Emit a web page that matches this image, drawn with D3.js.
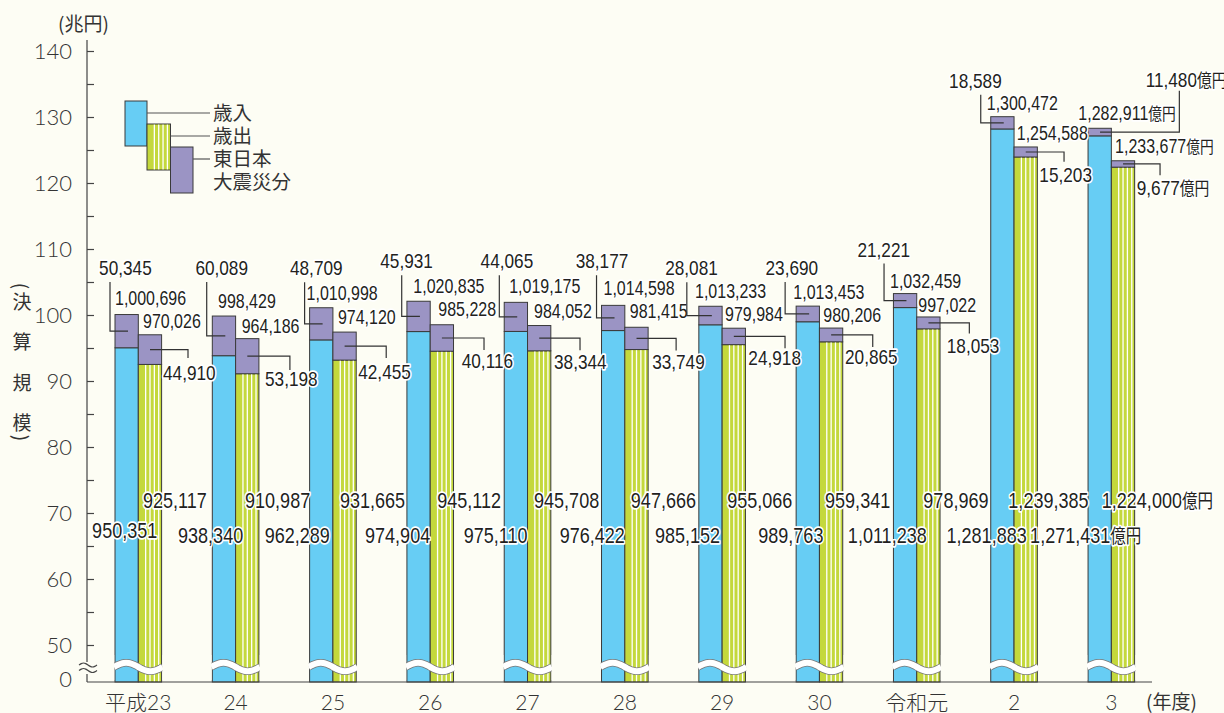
<!DOCTYPE html>
<html><head><meta charset="utf-8">
<script src="https://cdn.jsdelivr.net/npm/d3@7"></script>
<style>body{margin:0;background:#fdfdf4;} svg{display:block}</style>
</head><body><svg id="c" width="1224" height="713"></svg>
<script>
// ---- data (億円) ----
const categories = ["平成23","24","25","26","27","28","29","30","令和元","2","3"];
const revenueTotal = [1000696, 998429, 1010998, 1020835, 1019175, 1014598, 1013233, 1013453, 1032459, 1300472, 1282911];
const revenueBase = [950351, 938340, 962289, 974904, 975110, 976422, 985152, 989763, 1011238, 1281883, 1271431];
const revenueQuake = [50345, 60089, 48709, 45931, 44065, 38177, 28081, 23690, 21221, 18589, 11480];
const expenditureTotal = [970026, 964186, 974120, 985228, 984052, 981415, 979984, 980206, 997022, 1254588, 1233677];
const expenditureBase = [925117, 910987, 931665, 945112, 945708, 947666, 955066, 959341, 978969, 1239385, 1224000];
const expenditureQuake = [44910, 53198, 42455, 40116, 38344, 33749, 24918, 20865, 18053, 15203, 9677];
const yTickLabels = [50, 60, 70, 80, 90, 100, 110, 120, 130, 140];
const yMinorTicks = [55, 65, 75, 85, 95, 105, 115, 125, 135];
const legendLabels = ["歳入", "歳出", "東日本", "大震災分"];
const unitLabel = "(兆円)";
const xUnitLabel = "(年度)";
const yTitleChars = ["決", "算", "規", "模"];
const lastUnit = "億円";

// ---- label layout nudges (px, per year) ----
const nudge = [
  {qx:36.7,qy:-39.5,lx:-5,  tx:0,   ty:-9.5,ex:4.7,ey:-6.8,px:1.4,py:30.4,kx:26.4,kd:8.4, rdx:19,  edx:4.7},
  {qx:35.7,qy:-41,  lx:-5.6,tx:5.7, ty:-8,  ex:6.1,ey:-5.9,px:6.1,py:29.7,kx:31,  kd:13.7,rdx:7.6, edx:9.4},
  {qx:33,  qy:-32.6,lx:-5,  tx:-3,  ty:-7.6,ex:5,  ey:-8,  px:2,  py:33,  kx:30,  kd:12,  rdx:-3,  edx:7},
  {qx:26,  qy:-33,  lx:-5.2,tx:6.4, ty:-8.3,ex:8.1,ey:-8.3,px:8.2,py:29.9,kx:30.5,kd:12,  rdx:0,   edx:7},
  {qx:29,  qy:-34,  lx:-4.9,tx:5,   ty:-9.3,ex:6.5,ey:-7.2,px:3.2,py:30.8,kx:29.2,kd:12,  rdx:0,   edx:6.5},
  {qx:26.8,qy:-37,  lx:-5,  tx:2,   ty:-10.4,ex:5, ey:-9.3,px:4,  py:30.6,kx:28,  kd:12,  rdx:0,   edx:6},
  {qx:19,  qy:-31,  lx:-12, tx:-3.8,ty:-8,  ex:2.9,ey:-7.2,px:2.9,py:28.5,kx:39.6,kd:11.8,rdx:-2,  edx:5},
  {qx:22,  qy:-31,  lx:-11, tx:-2.8,ty:-7.4,ex:3.9,ey:-6.4,px:2.3,py:28.9,kx:30,  kd:12,  rdx:4,   edx:5.6},
  {qx:16.6,qy:-37,  lx:-9.4,tx:-3.4,ty:-5.6,ex:1.6,ey:-4.9,px:6.7,py:30.2,kx:29.3,kd:10.5,rdx:10,  edx:6.6},
  {qx:11,  qy:-29,  lx:-10, tx:-4,  ty:-6.7,ex:2.7,ey:-6.6,px:2,  py:29.7,kx:26.7,kd:9.7, rdx:12.7,edx:-5.7},
  {qx:11,  qy:-41.6,lx:44.7,tx:-9.7,ty:-8.3,ex:3.7,ey:-7.4,px:2.1,py:31.2,kx:25.4,kd:11.2,rdx:30,  edx:-9.6, right:true}
];

// ---- styles ----
const BG = "#fdfdf4", BLUE = "#67cdf4", GREEN = "#c4d83c", PURPLE = "#9b94c4", EDGE = "#3a3a3a", INK = "#231f20";
const numFont = "'Liberation Sans','Noto Sans CJK JP',sans-serif";
const numScale = 0.82;
const axFont = "Lato,'Noto Sans CJK JP',sans-serif";
const jpFont = "'Noto Sans CJK JP',sans-serif";

const svg = d3.select("#c");
svg.append("rect").attr("width", 1224).attr("height", 713).attr("fill", BG);

const y = d3.scaleLinear().domain([50, 140]).range([645, 51]);
const zeroY = 682;
const yv = v => v >= 50 ? y(v) : zeroY;
const x = d3.scaleBand().domain(categories).range([89.65, 1160]).padding(0);
const bw = 23.3;
const cxOf = i => x(categories[i]) + x.bandwidth() / 2;
const toCho = v => v / 10000;

// ---- y axis ----
const axisX = 87;
const yAxis = d3.axisLeft(y)
  .tickValues(d3.sort(yTickLabels.concat(yMinorTicks)))
  .tickSize(-7).tickPadding(15)
  .tickFormat(d => yTickLabels.includes(d) ? d : "");
const gy = svg.append("g").attr("transform", `translate(${axisX},0)`).call(yAxis);
gy.select(".domain").remove();
gy.selectAll(".tick line").attr("stroke", "#444").attr("stroke-width", 1.2);
gy.selectAll(".tick text").attr("font-family", axFont).attr("font-weight", 300)
  .attr("font-size", 22).attr("fill", "#333");
svg.append("text").attr("x", axisX - 15).attr("y", zeroY - 2).attr("dy", "0.32em")
  .attr("text-anchor", "end").attr("font-family", axFont).attr("font-weight", 300)
  .attr("font-size", 22).attr("fill", "#333").text(0);

svg.append("path").attr("d", `M${axisX},40V662M${axisX},674V${zeroY}`).attr("stroke", "#444").attr("stroke-width", 1.2).attr("fill", "none");
const tilde = d3.line().curve(d3.curveBasis);
[665, 670.5].forEach(ty => {
  const pts = d3.range(0, 1.0001, 0.125).map(t => [79 + 18 * t, ty - 2.2 * Math.sin(2 * Math.PI * t)]);
  svg.append("path").attr("d", tilde(pts)).attr("stroke", "#444").attr("stroke-width", 1.2).attr("fill", "none");
});

// ---- bars ----
const revStack = d3.stack().keys(["base", "quake"])(categories.map((c, i) => ({ base: toCho(revenueBase[i]), quake: toCho(revenueQuake[i]) })));
const expStack = d3.stack().keys(["base", "quake"])(categories.map((c, i) => ({ base: toCho(expenditureBase[i]), quake: toCho(expenditureQuake[i]) })));

const gBars = svg.append("g");
function drawStack(stack, side, baseFill) {
  stack.forEach((layer, li) => {
    gBars.selectAll(null).data(layer).join("rect")
      .attr("x", (d, i) => cxOf(i) + (side === "left" ? -bw : 0))
      .attr("width", bw)
      .attr("y", d => yv(d[1]))
      .attr("height", d => yv(d[0]) - yv(d[1]))
      .attr("fill", li === 0 ? baseFill : PURPLE)
      .attr("stroke", EDGE).attr("stroke-width", 1);
  });
}
drawStack(revStack, "left", BLUE);
drawStack(expStack, "right", GREEN);

expStack[0].forEach((d, i) => {
  const gl = cxOf(i);
  d3.range(6.7, 21.5, 4.35).forEach(off => {
    gBars.append("rect").attr("x", gl + off).attr("width", 1.3)
      .attr("y", yv(d[1]) + 0.6).attr("height", zeroY - yv(d[1]) - 1.2).attr("fill", "#ffffff");
  });
});

const waveLine = d3.line().curve(d3.curveBasis);
categories.forEach((c, i) => {
  const x0 = cxOf(i) - bw - 1, w = 2 * bw + 2;
  const pts = d3.range(0, 1.0001, 0.05).map(t => [x0 + w * t, 667 - 4.3 * Math.sin(2 * Math.PI * t)]);
  gBars.append("path").attr("d", waveLine(pts)).attr("stroke", "#777").attr("stroke-width", 7.6).attr("fill", "none");
  gBars.append("path").attr("d", waveLine(pts)).attr("stroke", "#ffffff").attr("stroke-width", 6).attr("fill", "none");
  gBars.append("rect").attr("x", x0 - 3).attr("y", 655).attr("width", 3.2).attr("height", 25).attr("fill", BG);
  gBars.append("rect").attr("x", x0 + w - 0.2).attr("y", 655).attr("width", 3.2).attr("height", 25).attr("fill", BG);
});
svg.append("line").attr("x1", axisX).attr("x2", 1152).attr("y1", zeroY).attr("y2", zeroY)
  .attr("stroke", "#444").attr("stroke-width", 1.2);

// ---- labels ----
const fmt = d3.format(",");
const gL = svg.append("g");
const leader = d3.line();
function addText(xp, yp, v, i, anchor, size) {
  const t = gL.append("g").attr("transform", `translate(${xp},${yp}) scale(${numScale},1)`)
    .append("text").attr("text-anchor", anchor || "start")
    .attr("font-family", numFont).attr("font-size", size).attr("fill", INK)
    .attr("stroke", "#ffffff").attr("stroke-width", 3.4).attr("stroke-linejoin", "round")
    .attr("paint-order", "stroke");
  t.append("tspan").text(fmt(v));
  if (i === categories.length - 1) t.append("tspan").attr("font-size", "0.86em").text(lastUnit);
}
function addLeader(pts) {
  gL.append("path").attr("d", leader(pts)).attr("fill", "none").attr("stroke", "#333").attr("stroke-width", 1.2);
}
const SZ_TOTAL = 19.5, SZ_QUAKE = 21, SZ_INNER = 22;
categories.forEach((c, i) => {
  const n = nudge[i];
  const cx = cxOf(i), bl = cx - bw, gr = cx + bw;
  const revTop = yv(toCho(revenueTotal[i]));
  const revMid = (yv(toCho(revenueBase[i] + revenueQuake[i])) + yv(toCho(revenueBase[i]))) / 2;
  const expTop = yv(toCho(expenditureTotal[i]));
  const expMid = (yv(toCho(expenditureBase[i] + expenditureQuake[i])) + yv(toCho(expenditureBase[i]))) / 2;

  const qb = revTop + n.qy;
  if (n.right) {
    addLeader([[bl + 12, revMid], [gr + n.lx, revMid], [gr + n.lx, qb + 4]]);
    addText(gr + n.qx, qb, revenueQuake[i], i, "start", SZ_QUAKE);
  } else {
    addLeader([[bl + n.lx, qb + 7], [bl + n.lx, revMid], [bl + 13, revMid]]);
    addText(bl + n.qx, qb, revenueQuake[i], i, "end", SZ_QUAKE);
  }
  addText(bl + n.tx, revTop + n.ty, revenueTotal[i], i, "start", SZ_TOTAL);
  addText(cx + n.ex, expTop + n.ey, expenditureTotal[i], i, "start", SZ_TOTAL);
  addLeader([[cx + 11.7, expMid], [gr + n.kx, expMid], [gr + n.kx, expMid + n.kd]]);
  addText(gr + n.px, expMid + n.py, expenditureQuake[i], i, "start", SZ_QUAKE);
  addText(cx + n.rdx, i === 0 ? y(65.5) - 5 : y(65.5) + 0.2, revenueBase[i], i, "end", SZ_INNER);
  addText(cx + n.edx, y(70.8) + 0.3, expenditureBase[i], i, "start", SZ_INNER);
});

// ---- x labels ----
categories.forEach((c, i) => {
  svg.append("text").attr("x", cxOf(i)).attr("y", 710).attr("text-anchor", "middle")
    .attr("font-family", axFont).attr("font-weight", 300).attr("font-size", 21).attr("fill", "#333").text(c);
});
svg.append("text").attr("x", 1146).attr("y", 709).attr("font-family", jpFont)
  .attr("font-size", 19).attr("fill", "#333").text(xUnitLabel);

// ---- unit / title ----
svg.append("text").attr("x", 58).attr("y", 31).attr("font-family", jpFont)
  .attr("font-size", 19).attr("fill", "#333").text(unitLabel);
const yt = svg.append("g").attr("font-family", jpFont).attr("font-size", 19).attr("fill", "#333");
yt.append("text").attr("transform", "translate(21,286) rotate(90)").attr("text-anchor", "middle").attr("dy", "0.35em").text("(");
yTitleChars.forEach((ch, k) => {
  yt.append("text").attr("x", 22).attr("y", 302 + 40.5 * k).attr("dy", "0.36em").attr("text-anchor", "middle").text(ch);
});
yt.append("text").attr("transform", "translate(21,438) rotate(90)").attr("text-anchor", "middle").attr("dy", "0.35em").text(")");

// ---- legend ----
const lg = svg.append("g");
const legendBoxes = [
  { x: 125, y: 101, w: 22, h: 45, fill: BLUE },
  { x: 147, y: 124, w: 23.5, h: 46, fill: GREEN, stripes: true },
  { x: 170.5, y: 147, w: 22.5, h: 46, fill: PURPLE }
];
legendBoxes.forEach((b, k) => {
  lg.append("rect").attr("x", b.x).attr("y", b.y).attr("width", b.w).attr("height", b.h)
    .attr("fill", b.fill).attr("stroke", EDGE).attr("stroke-width", 1);
  if (b.stripes) d3.range(6.7, 21.5, 4.35).forEach(off =>
    lg.append("rect").attr("x", b.x + off).attr("y", b.y + 0.6).attr("width", 1.3).attr("height", b.h - 1.2).attr("fill", "#fff"));
  const ly = b.y + 12;
  lg.append("line").attr("x1", b.x + b.w).attr("x2", 210).attr("y1", ly).attr("y2", ly).attr("stroke", "#555").attr("stroke-width", 1.2);
});
legendLabels.forEach((t, k) => {
  lg.append("text").attr("x", 213).attr("y", 113 + 23 * k).attr("dy", "0.36em")
    .attr("font-family", jpFont).attr("font-size", 19.5).attr("fill", "#333").text(t);
});
</script></body></html>
